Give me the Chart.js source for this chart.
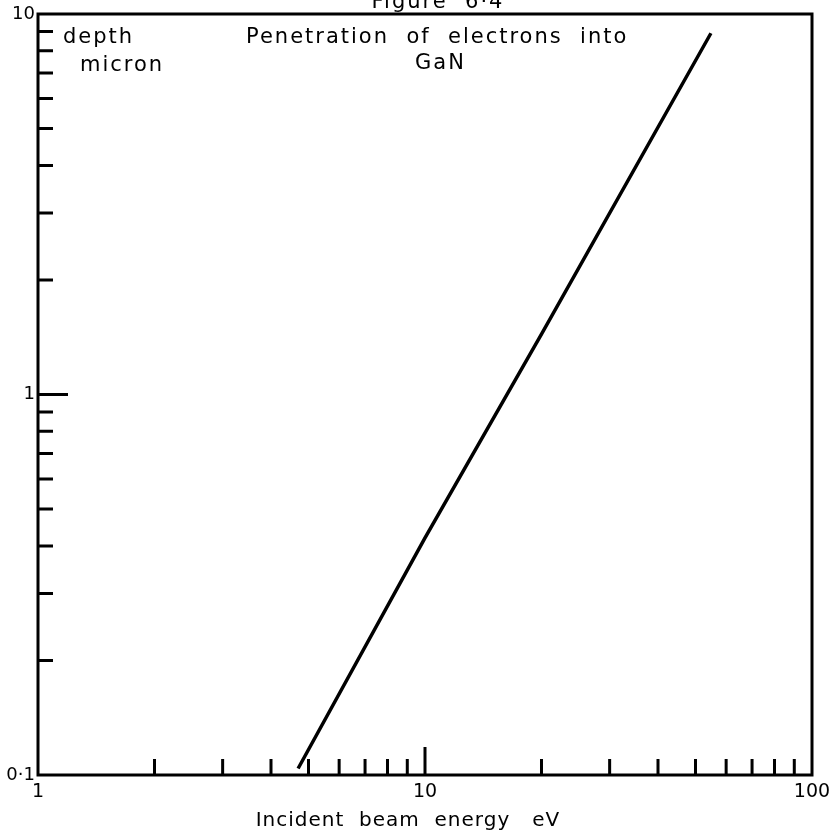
<!DOCTYPE html>
<html>
<head>
<meta charset="utf-8">
<script src="https://cdn.jsdelivr.net/npm/chart.js@4.4.0/dist/chart.umd.min.js"></script>
<style>
  html, body { margin: 0; padding: 0; background: #fff; }
  #wrap { width: 837px; height: 838px; }
</style>
</head>
<body>
<div id="wrap"><canvas id="myChart"></canvas></div>
<script>
// values
const energias = [4.7, 10, 20, 54.8];        // eV
const profundidad = [0.104, 0.42, 1.44, 8.9]; // micron
const xMayores = [1, 10, 100];
const yMayores = [0.1, 1, 10];
const xMenores = [2, 3, 4, 5, 6, 7, 8, 9, 20, 30, 40, 50, 60, 70, 80, 90];
const yMenores = [0.2, 0.3, 0.4, 0.5, 0.6, 0.7, 0.8, 0.9, 2, 3, 4, 5, 6, 7, 8, 9];
const etiquetasY = {0.1: '0·1', 1: '1', 10: '10'};

const fuente = 'DejaVu Sans';

// frame, inward ticks and the labels written on the figure
const marco = {
  id: 'marco',
  afterDraw(chart) {
    const ctx = chart.ctx;
    const a = chart.chartArea;
    const xs = chart.scales.x, ys = chart.scales.y;
    ctx.save();
    ctx.strokeStyle = '#000';
    ctx.lineWidth = 3;
    ctx.strokeRect(a.left, a.top, a.right - a.left, a.bottom - a.top);

    ctx.beginPath();
    xMenores.forEach(v => {
      const px = xs.getPixelForValue(v);
      ctx.moveTo(px, a.bottom);
      ctx.lineTo(px, a.bottom - 16);
    });
    let px10 = xs.getPixelForValue(10);
    ctx.moveTo(px10, a.bottom);
    ctx.lineTo(px10, a.bottom - 28);
    yMenores.forEach(v => {
      const py = ys.getPixelForValue(v);
      ctx.moveTo(a.left, py);
      ctx.lineTo(a.left + 15, py);
    });
    let py1 = ys.getPixelForValue(1);
    ctx.moveTo(a.left, py1);
    ctx.lineTo(a.left + 30, py1);
    ctx.stroke();

    ctx.fillStyle = '#000';
    ctx.textBaseline = 'middle';
    ctx.textAlign = 'left';
    ctx.font = '21px "' + fuente + '"';
    ctx.letterSpacing = '2px';
    ctx.fillText('depth', 63, 38);
    ctx.fillText('micron', 80, 66);
    ctx.fillText('Penetration  of  electrons  into', 246, 38);
    ctx.fillText('GaN', 415, 64);
    ctx.textAlign = 'center';
    ctx.textBaseline = 'alphabetic';
    ctx.fillText('Figure  6·4', 438, 8);

    ctx.font = '20px "' + fuente + '"';
    ctx.letterSpacing = '1px';
    ctx.textBaseline = 'middle';
    ctx.fillText('Incident  beam  energy   eV', 408, 821);
    ctx.restore();
  }
};

const ctx = document.getElementById('myChart').getContext('2d');
const chart = new Chart(ctx, {
  type: 'line',
  data: {
    labels: energias,
    datasets: [{
      label: 'GaN',
      data: energias.map((e, i) => ({x: e, y: profundidad[i]})),
      borderColor: '#000',
      backgroundColor: '#000',
      borderWidth: 3.5,
      pointRadius: 0,
      tension: 0
    }]
  },
  options: {
    responsive: true,
    maintainAspectRatio: false,
    animation: false,
    layout: {
      padding: {left: 0, right: 25, top: 14, bottom: 0}
    },
    plugins: {
      legend: {display: false},
      tooltip: {enabled: false}
    },
    scales: {
      x: {
        type: 'logarithmic',
        min: 1,
        max: 100,
        afterBuildTicks: s => { s.ticks = xMayores.map(v => ({value: v})); },
        afterFit: s => { s.height = 63; },
        grid: {display: false, drawTicks: false},
        border: {display: false},
        ticks: {
          color: '#000',
          padding: 6,
          font: {family: fuente, size: 19},
          callback: v => String(v),
          maxRotation: 0
        }
      },
      y: {
        type: 'logarithmic',
        min: 0.1,
        max: 10,
        afterBuildTicks: s => { s.ticks = yMayores.map(v => ({value: v})); },
        afterFit: s => { s.width = 38; },
        grid: {display: false, drawTicks: false},
        border: {display: false},
        ticks: {
          color: '#000',
          padding: 3,
          font: {family: fuente, size: 18},
          callback: v => etiquetasY[v]
        }
      }
    }
  },
  plugins: [marco]
});
</script>
</body>
</html>
